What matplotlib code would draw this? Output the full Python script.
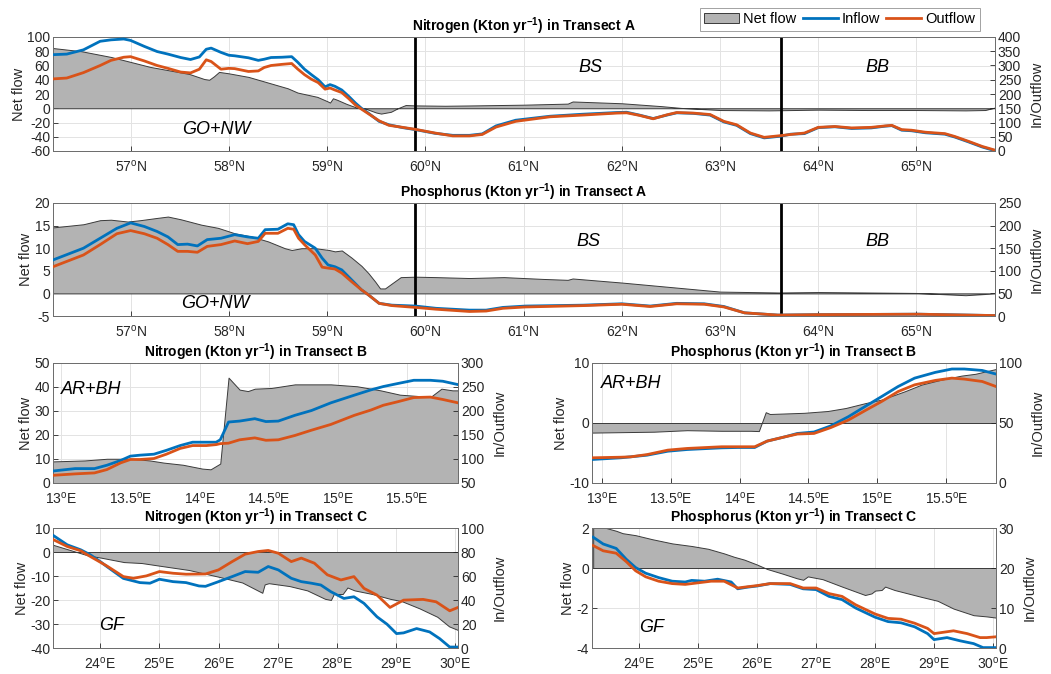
import numpy as np
import matplotlib
matplotlib.use("Agg")
import matplotlib.pyplot as plt
from matplotlib.patches import Patch
from matplotlib.lines import Line2D
from matplotlib.ticker import FuncFormatter, FixedLocator

plt.rcParams['font.family'] = ['Liberation Sans', 'DejaVu Sans']
plt.rcParams['mathtext.fontset'] = 'custom'
plt.rcParams['mathtext.rm'] = 'Liberation Sans'
plt.rcParams['mathtext.it'] = 'Liberation Sans:italic'
plt.rcParams['mathtext.bf'] = 'Liberation Sans:bold'
plt.rcParams['axes.unicode_minus'] = False

# ---------------- DATA ----------------
# Panel 1: Nitrogen, Transect A (latitude)
na_lat_net = [56.21, 56.5, 56.8, 57.0, 57.2, 57.4, 57.6, 57.75, 57.8, 57.85, 57.9, 58.0, 58.2, 58.4,
              58.6, 58.7, 58.9, 59.0, 59.03, 59.06, 59.1, 59.2, 59.3, 59.4, 59.5, 59.55, 59.65, 59.72,
              59.8, 59.9, 60.2, 60.5, 61.0, 61.45, 61.5, 61.7, 62.0, 62.4, 62.6, 63.0, 63.5, 64.0,
              64.5, 65.0, 65.5, 65.7, 65.8]
na_net = [84.5, 80, 72, 65, 58, 53, 48, 41, 40, 45, 51, 49, 44, 36,
          28, 22, 16, 10, 8, 14, 12, 6, 1, -1, -6, -7.5, -5, 0,
          4.5, 4, 3.5, 4, 5, 6.5, 9.5, 8.5, 7, 3, 0.5, -2.5, -3, -2,
          -2.5, -2.5, -3, -2.5, 1]
na_lat_io = [56.21, 56.35, 56.52, 56.69, 56.8, 56.93, 57.0, 57.14, 57.27, 57.38, 57.51, 57.61, 57.7,
             57.77, 57.82, 57.92, 58.0, 58.06, 58.2, 58.3, 58.36, 58.43, 58.54, 58.64, 58.7, 58.77,
             58.84, 58.91, 58.98, 59.03, 59.08, 59.15, 59.22, 59.29, 59.35, 59.42, 59.53, 59.63,
             59.77, 59.9, 60.1, 60.28, 60.45, 60.58, 60.72, 60.92, 61.27, 61.6, 61.95, 62.05, 62.18,
             62.32, 62.46, 62.56, 62.73, 62.9, 63.04, 63.17, 63.31, 63.45, 63.62, 63.72, 63.86,
             64.0, 64.17, 64.34, 64.54, 64.68, 64.75, 64.85, 64.95, 65.09, 65.29, 65.39, 65.53,
             65.67, 65.79]
na_in = [338, 340, 355, 385, 390, 393, 388, 367, 349, 340, 328, 321, 330,
         357, 361, 346, 336, 334, 327, 318, 322, 328, 329, 331, 312, 287,
         268, 250, 225, 233, 227, 214, 192, 168, 150, 133, 104, 92,
         82, 75, 62, 55, 55, 60, 88, 108, 122, 129, 135, 136, 126,
         114, 126, 134, 132, 126, 102, 90, 61, 46, 52, 59, 61,
         82, 85, 79, 81, 87, 89, 73, 71, 64, 59, 49, 32,
         14, 2]
na_out = [253, 256, 275, 300, 318, 329, 331, 316, 300, 290, 277, 274, 287,
          320, 314, 287, 290, 289, 279, 281, 293, 300, 304, 307, 288, 268,
          252, 240, 217, 221, 214, 205, 184, 161, 147, 131, 106, 90,
          83, 76, 63, 53, 53, 58, 84, 104, 120, 126, 133, 134, 125,
          113, 127, 135, 133, 128, 104, 92, 63, 48, 54, 58, 63,
          83, 86, 81, 83, 88, 90, 75, 73, 66, 61, 51, 34,
          16, 4]

# Panel 2: Phosphorus, Transect A
pa_lat_net = [56.21, 56.52, 56.69, 56.8, 56.97, 57.1, 57.27, 57.38, 57.51, 57.72, 57.89, 58.06,
              58.23, 58.4, 58.57, 58.64, 58.74, 58.88, 59.02, 59.08, 59.15, 59.25, 59.35, 59.42,
              59.49, 59.54, 59.59, 59.66, 59.75, 59.9, 60.11, 60.45, 60.8, 61.2, 61.45, 61.5,
              62.0, 62.5, 63.0, 63.6, 64.0, 65.0, 65.5, 65.8]
pa_net = [14.6, 15.3, 16.2, 16.3, 15.9, 16.2, 16.7, 17.0, 16.4, 15.2, 14.5, 13.3,
          12.6, 11.5, 10.0, 9.6, 10.0, 10.0, 9.6, 9.3, 9.5, 7.9, 6.1, 4.5,
          2.6, 1.1, 1.1, 2.2, 3.6, 3.7, 3.6, 3.4, 3.6, 3.2, 3.0, 3.3,
          2.4, 1.4, 0.4, 0.2, 0.3, 0.1, -0.4, 0.0]
pa_lat_io = [56.21, 56.52, 56.69, 56.86, 57.0, 57.14, 57.27, 57.38, 57.48, 57.58, 57.68, 57.78,
             57.92, 58.06, 58.19, 58.3, 58.37, 58.5, 58.6, 58.66, 58.71, 58.77, 58.88, 58.95,
             59.01, 59.08, 59.15, 59.25, 59.35, 59.42, 59.53, 59.66, 59.9, 60.11, 60.45, 60.62,
             60.79, 61.02, 61.61, 62.0, 62.29, 62.56, 62.84, 63.04, 63.25, 63.59, 64.0, 65.02,
             65.79]
pa_in = [124, 150, 172, 194, 206, 198, 187, 175, 158, 159, 155, 169,
         172, 180, 175, 172, 191, 192, 204, 202, 180, 165, 150, 128,
         113, 109, 102, 80, 58, 47, 28, 24, 22, 17, 13, 13,
         19, 22, 24, 27, 22, 28, 27, 21, 7, 2, 3, 4,
         1]
pa_out = [109, 135, 158, 182, 189, 182, 172, 158, 143, 143, 141, 154,
          158, 166, 160, 165, 183, 183, 194, 192, 172, 158, 135, 108,
          106, 104, 95, 76, 58, 47, 28, 23, 19, 15, 10, 11,
          17, 20, 23, 26, 21, 27, 26, 20, 7, 2, 3, 4,
          1]

# Panel 3: Nitrogen, Transect B (longitude)
nb_lon_net = [12.94, 13.17, 13.33, 13.5, 13.64, 13.74, 13.88, 14.02, 14.08, 14.15, 14.21, 14.29,
              14.35, 14.40, 14.52, 14.69, 14.95, 15.14, 15.31, 15.45, 15.57, 15.67, 15.75, 15.83,
              15.87]
nb_net = [9.0, 9.4, 10.1, 10.1, 9.4, 8.5, 7.6, 6.0, 5.7, 8.1, 43.9, 38.9,
          38.3, 39.3, 39.6, 41.1, 41.1, 40.3, 38.6, 36.8, 36.3, 35.8, 39.3, 38.6,
          38.6]
nb_lon_io = [12.94, 13.10, 13.24, 13.33, 13.43, 13.5, 13.57, 13.67, 13.76, 13.86, 13.95, 14.05,
             14.12, 14.15, 14.21, 14.29, 14.40, 14.48, 14.57, 14.69, 14.81, 14.95, 15.12, 15.24,
             15.33, 15.43, 15.55, 15.67, 15.76, 15.87]
nb_in = [75, 80, 80, 87, 97, 106, 108, 110, 118, 128, 135, 135,
         135, 140, 177, 179, 184, 178, 179, 191, 201, 217, 233, 244,
         251, 257, 264, 264, 262, 255]
nb_out = [66, 69, 71, 78, 92, 99, 99, 101, 110, 122, 128, 128,
          130, 132, 133, 140, 144, 139, 140, 149, 160, 172, 191, 202,
          212, 219, 228, 229, 224, 217]

# Panel 4: Phosphorus, Transect B
pb_lon_net = [12.93, 13.38, 13.62, 13.87, 14.08, 14.14, 14.19, 14.22, 14.47, 14.64, 14.77, 14.91,
              15.03, 15.20, 15.32, 15.46, 15.61, 15.71, 15.86]
pb_net = [-1.6, -1.45, -1.2, -1.3, -1.3, -1.35, 1.8, 1.5, 1.7, 2.0, 2.5, 3.3,
          3.9, 5.3, 6.4, 7.2, 7.9, 8.2, 9.0]
pb_lon_io = [12.93, 13.14, 13.21, 13.33, 13.48, 13.62, 13.87, 13.99, 14.11, 14.20, 14.33, 14.42,
             14.54, 14.66, 14.79, 14.91, 15.03, 15.15, 15.27, 15.42, 15.54, 15.63, 15.76, 15.86]
pb_in = [19.6, 21, 21.8, 23.2, 26.5, 27.9, 29.3, 29.6, 29.6, 34.9, 38.5, 41.3,
         42.5, 47.5, 55.3, 63.7, 72, 80.4, 87.4, 92.2, 95, 95, 93.8, 90.8]
pb_out = [21, 21.5, 21.8, 23.7, 27.4, 28.8, 30.2, 30.2, 30.2, 34.9, 38.5, 40.8,
          41.3, 46.1, 52.5, 60.3, 67.9, 76.2, 81.8, 85.5, 87.4, 86.6, 84.6, 80.4]

# Panel 5: Nitrogen, Transect C
nc_lon_net = [23.2, 23.4, 23.6, 23.8, 24.0, 24.4, 24.7, 25.0, 25.5, 26.0, 26.4, 26.7, 26.74,
              26.78, 26.85, 27.2, 27.5, 27.8, 27.9, 27.95, 28.1, 28.18, 28.3, 28.6, 28.9, 29.1,
              29.4, 29.7, 29.9, 30.05]
nc_net = [3, 1.5, 0, -1.5, -2.3, -4.2, -4.6, -5.7, -7.5, -10.3, -12.7, -16.5, -17,
          -13.5, -13, -14.2, -16, -19.5, -20, -17.5, -17.5, -14.8, -16, -17.5, -19.5, -20.5,
          -23.5, -27, -31, -32.5]
nc_lon_in = [23.21, 23.44, 23.67, 23.83, 24.0, 24.11, 24.39, 24.67, 24.84, 25.0, 25.23, 25.45,
             25.67, 25.78, 26.0, 26.23, 26.45, 26.67, 26.84, 27.01, 27.23, 27.40, 27.57, 27.73,
             27.90, 28.12, 28.29, 28.46, 28.68, 28.85, 29.01, 29.13, 29.35, 29.57, 29.74, 29.91,
             30.05]
nc_in = [93.6, 86, 81.8, 77.7, 72, 67.9, 58, 54.5, 54, 57.3, 55.3, 54.5,
         51.7, 51.4, 55.3, 59.5, 63.7, 63.1, 67.9, 65.1, 58.1, 55.3, 54, 52.5,
         46.9, 41.3, 42.7, 37.2, 26, 19.8, 12, 12.6, 16.2, 13.4, 7.8, 0.8,
         0.8]
nc_lon_out = [23.21, 23.44, 23.67, 23.83, 24.11, 24.39, 24.56, 24.78, 25.0, 25.23, 25.45, 25.78,
              26.0, 26.23, 26.45, 26.67, 26.84, 27.01, 27.23, 27.40, 27.62, 27.84, 28.07, 28.29,
              28.46, 28.68, 28.90, 29.13, 29.46, 29.68, 29.91, 30.05]
nc_out = [90.2, 84.6, 81, 76.3, 68.4, 59.5, 58.1, 60.1, 63.7, 62.3, 61.5, 61.7,
          65.1, 72, 78.2, 80.4, 81.3, 79, 72, 74.9, 70.7, 61, 56.7, 59.5,
          49.7, 44.1, 33.8, 39.9, 40.5, 38.5, 31, 33.8]

# Panel 6: Phosphorus, Transect C
pc_lon_net = [23.22, 23.44, 23.61, 23.72, 23.94, 24.22, 24.56, 24.89, 25.17, 25.44, 25.61, 25.78,
              26.0, 26.17, 26.44, 26.67, 26.78, 26.86, 27.11, 27.44, 27.83, 27.94, 28.0, 28.11,
              28.17, 28.33, 28.78, 29.06, 29.33, 29.67, 29.89, 30.05]
pc_net = [2.0, 2.0, 1.86, 1.74, 1.64, 1.44, 1.23, 1.1, 0.96, 0.73, 0.56, 0.42,
          0.17, -0.05, -0.29, -0.51, -0.59, -0.42, -0.56, -0.93, -1.35, -1.27, -1.13, -1.1,
          -0.93, -1.1, -1.44, -1.64, -2.03, -2.36, -2.42, -2.48]
pc_lon_in = [23.22, 23.39, 23.61, 23.78, 23.94, 24.11, 24.33, 24.56, 24.78, 24.89, 25.11, 25.33,
             25.56, 25.67, 25.83, 26.0, 26.22, 26.56, 26.78, 27.0, 27.22, 27.44, 27.67, 28.0,
             28.22, 28.44, 28.67, 28.89, 29.0, 29.22, 29.44, 29.67, 29.83, 30.05]
pc_in = [27.7, 26, 24.9, 22.2, 20.1, 18.7, 17.6, 16.7, 16.5, 16.9, 16.7, 17.2,
         16.5, 14.8, 15.2, 15.5, 16.1, 15.9, 14.8, 14.6, 12.9, 12.1, 10, 7.7,
         6.6, 6.3, 5.3, 3.6, 2.1, 2.6, 1.8, 1.1, 0.1, 0.1]
pc_lon_out = [23.22, 23.39, 23.61, 23.78, 23.94, 24.11, 24.33, 24.56, 24.78, 25.0, 25.22, 25.44,
              25.67, 25.83, 26.0, 26.22, 26.56, 26.78, 27.0, 27.22, 27.44, 27.67, 28.0, 28.22,
              28.44, 28.67, 28.89, 29.0, 29.33, 29.56, 29.78, 29.89, 30.05]
pc_out = [25.6, 24.3, 23.7, 21.6, 19.3, 17.8, 16.7, 16.1, 15.9, 16.3, 16.7, 16.7,
          15, 15.3, 15.6, 16.1, 16.1, 15, 15, 13.6, 12.9, 10.8, 8.5, 7.4,
          7.2, 6.2, 4.9, 3.6, 4.3, 3.6, 2.6, 2.6, 2.8]

boundaries_A = [59.9, 63.62]

# ---------------- STYLE ----------------
W, H = 1051, 674
fig = plt.figure(figsize=(W / 100, H / 100), dpi=100)

C_IN = '#0072BD'
C_OUT = '#D95319'
C_FILL = '#b3b3b3'
C_EDGE = '#3a3a3a'
C_TXT = '#262626'
C_SPINE = '#6e6e6e'
FS_TICK = 10
FS_LAB = 10.5


def px_axes(x0, y0, x1, y1):
    return fig.add_axes([x0 / W, 1 - y1 / H, (x1 - x0) / W, (y1 - y0) / H])


def deg_fmt(hemi):
    def f(v, pos):
        s = ('%g' % v)
        return s + r'$^{\rm o}$' + hemi
    return FuncFormatter(f)


def panel(box, xnet, net, xin, vin, xout, vout, xlim, xticks, hemi,
          lylim, lyticks, rylim, ryticks, title):
    ax = px_axes(*box)
    ax.set_axisbelow(True)
    ax.fill_between(xnet, 0, net, facecolor=C_FILL, edgecolor=C_EDGE, linewidth=0.7, zorder=2)
    ax.set_xlim(*xlim)
    ax.set_ylim(*lylim)
    ax.yaxis.set_major_locator(FixedLocator(lyticks))
    ax.xaxis.set_major_locator(FixedLocator(xticks))
    ax.xaxis.set_major_formatter(deg_fmt(hemi))
    ax.grid(True, color='#e3e3e3', linewidth=0.7)
    ax.tick_params(direction='in', length=3.5, labelsize=FS_TICK, colors=C_TXT,
                   width=0.6, pad=2.0)
    ax.tick_params(axis='x', pad=5.5)
    ax.set_ylabel('Net flow', fontsize=FS_LAB, color=C_TXT, labelpad=1)
    ax2 = ax.twinx()
    ax2.plot(xin, vin, color=C_IN, linewidth=2.0, zorder=3)
    ax2.plot(xout, vout, color=C_OUT, linewidth=2.0, zorder=3)
    ax2.set_ylim(*rylim)
    ax2.yaxis.set_major_locator(FixedLocator(ryticks))
    ax2.tick_params(direction='in', length=3.5, labelsize=FS_TICK, colors=C_TXT,
                    width=0.6, pad=2.0)
    ax2.set_ylabel('In/Outflow', fontsize=FS_LAB, color=C_TXT, labelpad=6)
    for a in (ax, ax2):
        for s in a.spines.values():
            s.set_color(C_SPINE)
            s.set_linewidth(0.7)
    ax.set_title(title, fontsize=10, fontweight='bold', color='black', pad=2.5)
    return ax, ax2


# Row 1
a1, b1 = panel((53, 37, 995, 151), na_lat_net, na_net, na_lat_io, na_in, na_lat_io, na_out,
               (56.21, 65.8), [57, 58, 59, 60, 61, 62, 63, 64, 65], 'N',
               (-60, 100), list(range(-60, 101, 20)), (0, 400), list(range(0, 401, 50)),
               r'Nitrogen (Kton yr$^{\mathbf{-1}}$) in Transect A')
# Row 2
a2, b2 = panel((53, 203, 995, 316), pa_lat_net, pa_net, pa_lat_io, pa_in, pa_lat_io, pa_out,
               (56.21, 65.8), [57, 58, 59, 60, 61, 62, 63, 64, 65], 'N',
               (-5, 20), list(range(-5, 21, 5)), (0, 250), list(range(0, 251, 50)),
               r'Phosphorus (Kton yr$^{\mathbf{-1}}$) in Transect A')
for a in (a1, a2):
    for xb in boundaries_A:
        a.axvline(xb, color='black', linewidth=2.0, zorder=5)

# Row 3
a3, b3 = panel((53, 363, 458, 483), nb_lon_net, nb_net, nb_lon_io, nb_in, nb_lon_io, nb_out,
               (12.94, 15.87), [13, 13.5, 14, 14.5, 15, 15.5], 'E',
               (0, 50), list(range(0, 51, 10)), (50, 300), list(range(50, 301, 50)),
               r'Nitrogen (Kton yr$^{\mathbf{-1}}$) in Transect B')
a4, b4 = panel((592, 363, 996, 483), pb_lon_net, pb_net, pb_lon_io, pb_in, pb_lon_io, pb_out,
               (12.93, 15.86), [13, 13.5, 14, 14.5, 15, 15.5], 'E',
               (-10, 10), [-10, 0, 10], (0, 100), [0, 50, 100],
               r'Phosphorus (Kton yr$^{\mathbf{-1}}$) in Transect B')
# Row 4
a5, b5 = panel((53, 528, 458, 648), nc_lon_net, nc_net, nc_lon_in, nc_in, nc_lon_out, nc_out,
               (23.2, 30.05), [24, 25, 26, 27, 28, 29, 30], 'E',
               (-40, 10), list(range(-40, 11, 10)), (0, 100), list(range(0, 101, 20)),
               r'Nitrogen (Kton yr$^{\mathbf{-1}}$) in Transect C')
a6, b6 = panel((592, 528, 996, 648), pc_lon_net, pc_net, pc_lon_in, pc_in, pc_lon_out, pc_out,
               (23.2, 30.05), [24, 25, 26, 27, 28, 29, 30], 'E',
               (-4, 2), [-4, -2, 0, 2], (0, 30), [0, 10, 20, 30],
               r'Phosphorus (Kton yr$^{\mathbf{-1}}$) in Transect C')

# Region annotations (figure pixel positions)
ann = [('GO+NW', 216, 130), ('BS', 590, 68), ('BB', 877, 68),
       ('GO+NW', 215, 304), ('BS', 588, 241), ('BB', 877, 241),
       ('AR+BH', 91, 389), ('AR+BH', 631, 383), ('GF', 112, 625), ('GF', 652, 628)]
for txt, x, y in ann:
    fig.text(x / W, 1 - y / H, txt, fontsize=13, style='italic', color='black',
             ha='center', va='center', zorder=10)

# Legend
handles = [Patch(facecolor=C_FILL, edgecolor=C_EDGE, linewidth=0.7),
           Line2D([], [], color=C_IN, linewidth=2.0),
           Line2D([], [], color=C_OUT, linewidth=2.0)]
leg = fig.legend(handles, ['Net flow', 'Inflow', 'Outflow'], loc='upper right',
                 bbox_to_anchor=(980 / W, 1 - 8 / H), ncol=3, fontsize=10.5,
                 frameon=True, fancybox=False, edgecolor='#8a8a8a', handlelength=2.4,
                 handletextpad=0.3, columnspacing=0.4, borderpad=0.3, borderaxespad=0.0)
leg.get_frame().set_linewidth(0.7)

fig.savefig('out.png', dpi=100)
